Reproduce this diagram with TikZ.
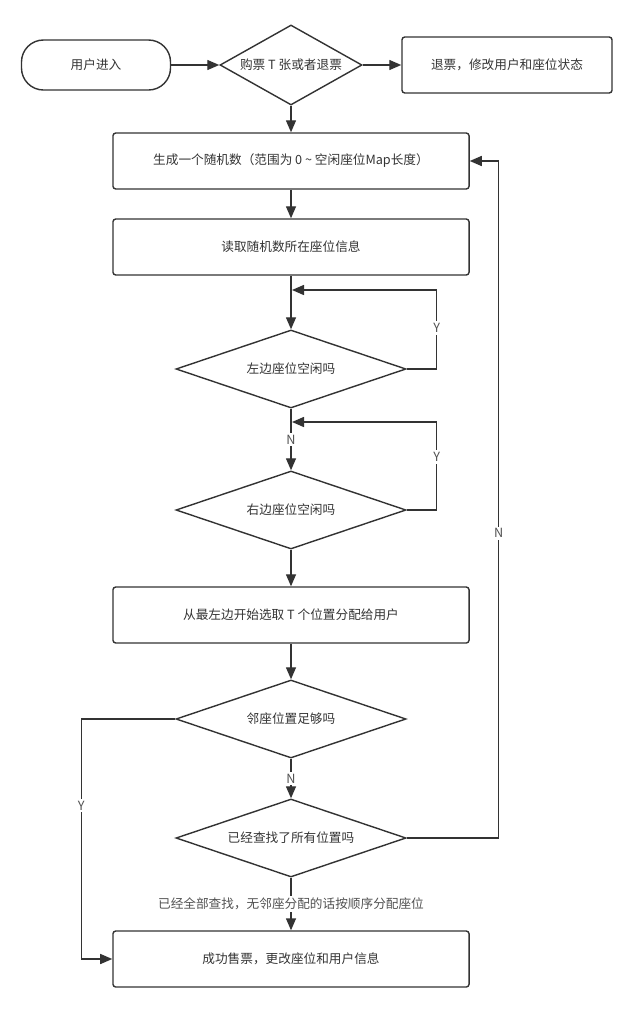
\documentclass[tikz,border=0pt]{standalone}
\usepackage{fontspec}
\setmainfont{Noto Sans CJK SC}
\usetikzlibrary{positioning, arrows.meta, shapes.geometric}
\definecolor{ink}{HTML}{333333}

\begin{document}
\begin{tikzpicture}[
    x=0.025cm, y=-0.025cm,
    >={Triangle[length=3mm, width=2.5mm]},
    font=\fontsize{9}{11}\selectfont,
    line width=1pt, color=ink,
    terminal/.style={draw=ink, rectangle, rounded corners=0.55cm,
                     minimum width=3.725cm, minimum height=1.25cm},
    process/.style={draw=ink, rectangle, rounded corners=2pt,
                    minimum width=8.9cm, minimum height=1.4cm},
    decision/.style={draw=ink, diamond, inner sep=0pt, aspect=2.95,
                     minimum width=5.75cm, minimum height=1.95cm},
    flow/.style={->},
    lbl/.style={fill=white, inner sep=1.5pt, text=ink!85},
]

\useasboundingbox (0,0) rectangle (637,1013);

% --- entry row ---
\node[terminal] (start) at (96,65) {用户进入};
\node[decision, minimum width=3.55cm, minimum height=2cm, aspect=1.78]
    (choice) at (291,65) {购票 T 张或者退票};
\node[process, minimum width=5.25cm] (refund) at (507,65) {退票，修改用户和座位状态};

% --- main column ---
\node[process] (rand) at (291,161)
    {生成一个随机数（范围为 0 \textasciitilde{} 空闲座位Map长度）};
\node[process] (read) at (291,247) {读取随机数所在座位信息};
\node[decision] (leftfree) at (291,369) {左边座位空闲吗};
\node[decision] (rightfree) at (291,510) {右边座位空闲吗};
\node[process] (pick) at (291,615) {从最左边开始选取 T 个位置分配给用户};
\node[decision] (enough) at (291,719) {邻座位置足够吗};
\node[decision] (searched) at (291,838) {已经查找了所有位置吗};
\node[process] (done) at (291,959) {成功售票，更改座位和用户信息};

% --- loop entry points on the main line ---
\coordinate (leftin) at (292,290);
\coordinate (rightin) at (292,422);

% --- straight connectors ---
\draw[flow] (start) -- (choice);
\draw[flow] (choice) -- (refund);
\draw[flow] (choice) -- (rand);
\draw[flow] (rand) -- (read);
\draw[flow] (read) -- (leftfree);
\draw[flow] (leftfree) -- node[lbl] {N} (rightfree);
\draw[flow] (rightfree) -- (pick);
\draw[flow] (pick) -- (enough);
\draw[flow] (enough) -- node[lbl] {N} (searched);
\draw[flow] (searched) -- node[lbl] {已经全部查找，无邻座分配的话按顺序分配座位} (done);

% --- side loops ---
\draw[flow] (leftfree.east) -- ++(30,0) |- node[lbl, pos=0.26] {Y} (leftin);
\draw[flow] (rightfree.east) -- ++(30,0) |- node[lbl, pos=0.3] {Y} (rightin);
\draw[flow] (searched.east) -- ++(92,0) |- node[lbl, pos=0.225] {N} (rand.east);
\draw[flow] (enough.west) -- ++(-94,0) |- node[lbl, pos=0.18] {Y} (done.west);

\end{tikzpicture}
\end{document}
